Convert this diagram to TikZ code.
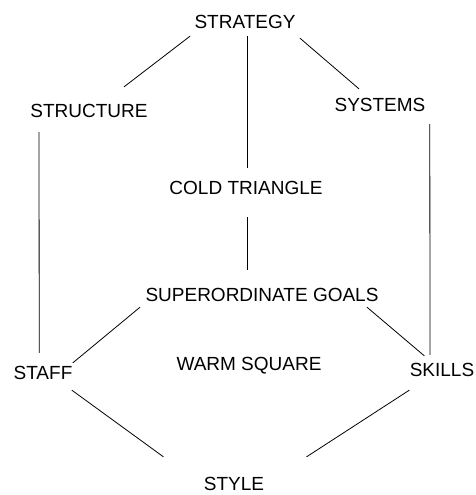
\documentclass[tikz,border=0pt]{standalone}
\usepackage{fontspec}
\setmainfont{Liberation Sans}
\usetikzlibrary{calc}

\begin{document}
\begin{tikzpicture}[x=1pt, y=-1pt, line width=0.8pt,
    label7s/.style={inner sep=0pt, font=\fontsize{19}{23}\selectfont}]
    \useasboundingbox (0,0) rectangle (475,495);
    % the seven S and the two inner labels
    \node[label7s] (strategy) at (245,22) {STRATEGY};
    \node[label7s] (structure) at (89,111) {STRUCTURE};
    \node[label7s] (systems) at (380,105) {SYSTEMS};
    \node[label7s] (cold) at (246,188) {COLD TRIANGLE};
    \node[label7s] (goals) at (262,295) {SUPERORDINATE GOALS};
    \node[label7s] (staff) at (43,373) {STAFF};
    \node[label7s] (warm) at (249,366) {WARM SQUARE};
    \node[label7s] (skills) at (442,370) {SKILLS};
    \node[label7s] (style) at (234,484) {STYLE};
    % links
    \draw ($(strategy.south west)+(-4,7)$) -- ($(structure.north)+(35,-17)$);
    \draw ($(strategy.south)+(2,7)$) -- ($(cold.north)+(1,-13)$);
    \draw ($(strategy.south east)+(4,9)$) -- ($(systems.north)+(-21,-9)$);
    \draw ($(structure.south west)+(9,14)$) -- ($(staff.north west)+(26,-13)$);
    \draw ($(systems.south east)+(4,12)$) -- ($(skills.north)+(-12,-8)$);
    \draw ($(cold.south)+(1,22)$) -- ($(goals.north)+(-15,-18)$);
    \draw ($(goals.south west)+(-5,5)$) -- ($(staff.north east)+(0,-3)$);
    \draw ($(goals.south east)+(-12,5)$) -- ($(skills.north west)+(15,-7)$);
    \draw ($(staff.south east)+(-1,10)$) -- ($(style.north west)+(-40,-20)$);
    \draw ($(skills.south west)+(0,13)$) -- ($(style.north east)+(42,-20)$);
\end{tikzpicture}
\end{document}
